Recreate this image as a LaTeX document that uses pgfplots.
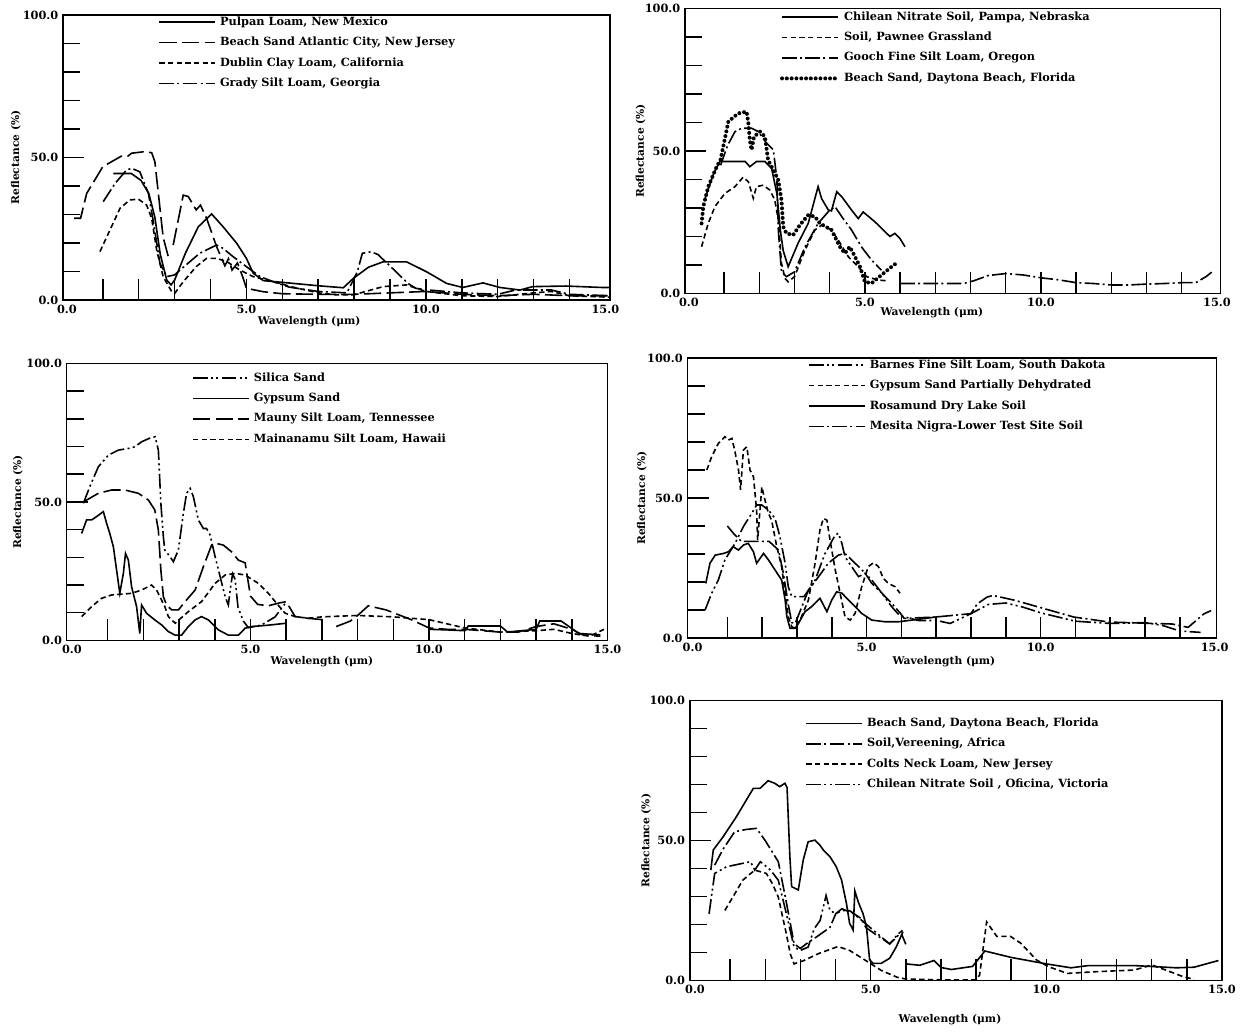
\documentclass[border=0pt]{standalone}
\usepackage{fontspec}
\setmainfont{DejaVu Serif}
\usepackage{pgfplots}
\pgfplotsset{compat=1.18}

% line styles of the scanned curves
\tikzset{
  c solid/.style={solid},
  c long/.style={dash pattern=on 13pt off 4pt},
  c short/.style={dash pattern=on 4pt off 2.5pt},
  c dashdot/.style={dash pattern=on 11pt off 2.5pt on 1.5pt off 2.5pt},
  c dashdotdot/.style={dash pattern=on 11pt off 2.5pt on 1.5pt off 2.5pt on 1.5pt off 2.5pt},
  c dots/.style={line width=3pt, dash pattern=on 0pt off 3.6pt, line cap=round},
}

\pgfplotsset{
  panel/.style={
    scale only axis, anchor=south west,
    ymin=0, ymax=100,
    xtick={1,...,14},
    xticklabels={,,,,5.0,,,,,10.0,,,,},
    extra x ticks={0,15}, extra x tick labels={0.0,15.0},
    extra x tick style={tick style={draw=none}},
    ytick={0,50,100}, yticklabels={0.0,50.0,100.0},
    minor ytick={10,20,...,90},
    tick align=inside, tick pos=left,
    major tick length=16pt, minor tick length=13pt,
    every tick/.style={black, line width=1.1pt},
    axis line style={line width=1.2pt},
    tick label style={font=\fontsize{8.5}{9.5}\selectfont\bfseries},
    label style={font=\fontsize{8}{9.5}\selectfont\bfseries},
    xlabel={Wavelength (μm)}, ylabel={Reflectance (\%)},
    xlabel style={anchor=center}, ylabel style={anchor=center},
    every axis plot/.append style={black, line width=1.2pt},
    legend cell align=left,
    legend style={draw=none, fill=none, anchor=north west, inner sep=0pt,
      font=\fontsize{8.5}{10}\selectfont\bfseries, row sep=4.8pt,
      nodes={inner sep=1pt, text height=6.5pt, text depth=2pt},
      /tikz/every odd column/.style={column sep=2pt}},
    legend image code/.code={\draw[##1] (0pt,0pt) -- (42pt,0pt);},
  },
}

\begin{document}
\begin{tikzpicture}
\path[use as bounding box] (0pt,0pt) rectangle (933pt,-773.25pt);

% ---------------- top left ----------------
\begin{axis}[panel,
  at={(47.25pt,-225pt)}, width=410.25pt, height=213.75pt,
  xmin=-0.11, xmax=15.13,
  legend style={at={(0.174,1.0)}},
  xlabel style={at={(axis description cs:0.45,-0.077)}},
  ylabel style={at={(axis description cs:-0.086,0.5)}},
]
\addplot[c solid] coordinates {(1.29,44.4)(1.79,44.4)(2.06,42)(2.28,37.4)(2.45,29)(2.6,16)(2.78,7)(2.9,5.3)(3.0,7)(3.3,16.4)(3.66,25.7)(4.03,30.2)(4.35,25.7)(4.73,19.9)(5.0,14.6)(5.19,9.4)(5.47,6.8)(6.0,6.2)(7.0,5.0)(7.7,4.3)(7.98,7.6)(8.4,11.5)(8.81,13.4)(9.46,13.4)(10.02,9.9)(10.58,5.8)(11.03,4.4)(11.59,6.0)(12.06,4.4)(12.62,3.5)(12.98,4.7)(13.9,4.9)(14.9,4.4)(15.1,4.4)};
\addlegendentry{Pulpan Loam, New Mexico}
\addplot[c long] coordinates {(0.2,28.7)(0.38,28.7)(0.55,37.4)(1.0,46.8)(1.52,50.5)(1.7,50.5)(1.8,51.5)(2.13,52)(2.36,51.7)(2.45,48.5)(2.68,22)(2.82,15.4)};
\addlegendentry{Beach Sand Atlantic City, New Jersey}
\addplot[c short] coordinates {(0.92,17)(1.2,24.6)(1.48,32.2)(1.75,35.1)(1.99,35.4)(2.22,33.3)(2.36,28.7)(2.5,17.5)(2.68,8.2)(2.92,2.9)(3.0,2.3)(3.24,6.4)(3.6,11.7)(3.89,14.6)(4.17,14.6)(4.45,13.5)(4.82,10.5)(5.19,8.2)(5.56,7)(5.93,5.8)(6.3,4.5)(7.0,2.5)(7.5,1.8)(7.98,1.8)(8.81,4.7)(9.46,5.3)(10.0,3)(11,1.5)(12,1.2)(13,2.5)(13.5,3)(14,1.5)(15.1,1)};
\addlegendentry{Dublin Clay Loam, California}
\addplot[c dashdot] coordinates {(1.01,34.5)(1.34,40.9)(1.66,45.6)(1.8,46.2)(2.03,45)(2.27,37.4)(2.4,28)(2.59,12.9)(2.78,8.2)(3.0,8.8)(3.15,10.5)(3.7,16.4)(4.17,19.3)(4.35,18.1)(4.63,15.2)(5.0,11.7)(5.38,8.2)(5.75,6.4)(6.2,4.5)(7.0,3)(7.8,2.5)(8.09,9.9)(8.23,16.4)(8.47,16.9)(8.66,16)(9.12,10.5)(9.5,5.8)(9.72,4.1)(10.09,3.5)(11,2.5)(12,2)(12.5,3.5)(13.5,3.5)(14,2)(15.1,1.5)};
\addlegendentry{Grady Silt Loam, Georgia}
\addplot[c long, forget plot] coordinates {(2.96,19.3)(3.24,36.8)(3.38,36.3)(3.6,31.6)(3.72,33.3)(3.89,28.7)(4.17,18.7)(4.4,12)(4.5,14.5)(4.6,10.5)(4.75,13)(4.9,8)(5.0,4.1)(5.47,2.9)(6.0,2.2)(7.0,2.0)(8.0,2.0)(9,2.5)(10,3)(11,2)(12,1.5)(13,2)(14,1.5)(15.1,1.5)};
\end{axis}

% ---------------- top right ----------------
\begin{axis}[panel,
  at={(513.75pt,-220.125pt)}, width=401.6pt, height=213.75pt,
  xmin=-0.11, xmax=15.1,
  legend style={at={(0.177,0.995)}},
  xlabel style={at={(axis description cs:0.461,-0.068)}},
  ylabel style={at={(axis description cs:-0.083,0.5)}},
]
\addplot[c solid] coordinates {(0.45,33)(0.7,42)(0.88,46.3)(1.31,46.3)(1.6,46.3)(1.73,44.5)(1.92,46.3)(2.16,46.3)(2.35,43.9)(2.5,35)(2.6,22)(2.68,15)(2.82,9.4)(3.1,17.6)(3.39,24.6)(3.67,37.5)(3.77,33.3)(3.96,29.3)(4.05,29)(4.2,35.7)(4.34,34)(4.62,29.3)(4.81,26.3)(4.95,28.6)(5.28,25.2)(5.57,21.7)(5.71,20)(5.85,21.1)(5.99,19.4)(6.14,16.4)};
\addlegendentry{Chilean Nitrate Soil, Pampa, Nebraska}
\addplot[c short] coordinates {(0.36,16.4)(0.55,24.6)(0.74,30.5)(1.02,35.1)(1.31,37.5)(1.54,40.8)(1.69,39.2)(1.83,33.4)(1.92,37.5)(2.11,38)(2.3,36.3)(2.44,32.8)(2.54,25.8)(2.63,10.6)(2.73,5.3)(2.82,4.1)(3.0,5.9)(3.3,15.3)(3.58,22.3)(3.77,24)(4.05,22.3)(4.24,18.8)(4.53,12.9)(4.81,9.4)(5.05,5.9)(5.38,4.7)(5.6,4.5)};
\addlegendentry{Soil, Pawnee Grassland}
\addplot[c dashdot] coordinates {(0.9,45)(1.1,52)(1.31,56.8)(1.5,58)(1.78,58)(1.97,56.8)(2.21,52.7)(2.4,50.4)(2.5,40)(2.54,22.3)(2.63,7.6)(2.77,5.9)(3.0,7.6)(3.3,16.4)(3.67,24.6)(3.96,28.7)(4.15,30.5)(4.34,27)(4.62,22.3)(4.9,16.4)(5.19,11.7)(5.47,8.2)};
\addlegendentry{Gooch Fine Silt Loam, Oregon}
\addplot[c dots] coordinates {(0.36,24.6)(0.41,30.5)(0.55,37.5)(0.79,44.5)(0.9,47)(1.0,53)(1.12,60.3)(1.4,63.2)(1.64,63.8)(1.69,59.7)(1.73,53.9)(1.78,50.4)(1.85,55)(2.02,56.8)(2.16,55)(2.25,46.8)(2.4,43.3)(2.54,39.8)(2.63,32.8)(2.68,23.4)(2.77,21.1)(2.96,20.5)(3.15,24)(3.39,27.5)(3.58,27)(3.72,24.6)(4.05,22.3)(4.29,16.4)(4.43,14.1)(4.57,16.4)(4.72,12.9)(4.86,9.4)(5.0,4.1)(5.19,3.6)(5.47,6.5)(5.76,9.4)(5.95,11.2)};
\addlegendentry{Beach Sand, Daytona Beach, Florida}
\addplot[c dashdot, forget plot] coordinates {(6.0,3.5)(7.0,3.5)(7.8,3.5)(8.1,4.5)(8.5,6.3)(9.0,7.0)(9.5,6.5)(10.0,5.5)(10.5,4.8)(11.0,3.8)(11.5,3.5)(12.0,3.0)(12.5,3.0)(13.0,3.3)(13.5,3.5)(14.0,3.8)(14.4,3.8)(14.7,6.0)(14.85,7.5)};
\end{axis}

% ---------------- middle left ----------------
\begin{axis}[panel,
  at={(49.95pt,-480.3pt)}, width=405.7pt, height=207.75pt,
  xmin=-0.15, xmax=15,
  legend style={at={(0.232,0.973)}},
  xlabel style={at={(axis description cs:0.472,-0.077)}},
  ylabel style={at={(axis description cs:-0.09,0.5)}},
]
\addplot[c dashdotdot] coordinates {(0.32,49.5)(0.5,55.5)(0.74,62.7)(1.02,66.9)(1.3,68.7)(1.58,69.3)(1.76,69.9)(1.95,71.7)(2.23,73.3)(2.33,73.5)(2.42,68.7)(2.49,49.5)(2.56,37.4)(2.6,32.6)(2.75,30.2)(2.84,28.4)(2.98,32.6)(3.12,45.8)(3.21,53.1)(3.31,54.9)(3.4,51.9)(3.54,43.5)(3.68,40.4)(3.77,40.4)(3.87,38)(4.01,30.2)(4.15,23)(4.29,15.8)(4.38,12.8)(4.45,20)(4.5,24)(4.57,22)(4.65,12)(4.8,7)(4.94,4.6)(5.3,5.5)(5.69,8.5)(5.95,13)(6.05,13.5)};
\addlegendentry{Silica Sand}
\addplot[c solid] coordinates {(0.27,38.6)(0.41,43.5)(0.55,43.5)(0.69,44.7)(0.88,46.5)(0.97,42.3)(1.06,38.6)(1.16,33.8)(1.25,25.4)(1.34,17)(1.44,24.2)(1.5,31.4)(1.58,29)(1.67,19.4)(1.81,12.2)(1.9,2.5)(1.95,12.8)(2.09,9.8)(2.32,7.4)(2.51,5.6)(2.7,3.2)(2.89,1.9)(3.07,1.9)(3.26,5)(3.45,7.4)(3.63,8.6)(3.82,7.4)(4.1,3.8)(4.38,1.9)(4.66,1.9)(4.85,4.4)(5.03,5)(5.5,5.5)(6.0,6.2)};
\addlegendentry{Gypsum Sand}
\addplot[c long] coordinates {(0.32,50)(0.74,53.1)(1.11,54.3)(1.48,54.3)(1.86,53.1)(2.14,50.7)(2.32,47.1)(2.42,39.8)(2.49,25.4)(2.56,15.8)(2.65,12.8)(2.79,11)(2.98,11)(3.17,14)(3.45,18.2)(3.68,26.6)(3.91,34.4)(4.05,35)(4.24,34.4)(4.47,32)(4.66,29)(4.85,28)(4.95,20)(5.0,16)(5.2,13)(5.5,12.5)(5.8,13.5)(6.0,14)(6.25,8.6)(6.6,8)(7.09,7.4)};
\addlegendentry{Mauny Silt Loam, Tennessee}
\addplot[c short] coordinates {(0.27,8.6)(0.55,12.2)(0.83,15.2)(1.11,16.4)(1.39,16.7)(1.67,17)(1.95,18.2)(2.23,20)(2.37,18.2)(2.6,12.2)(2.7,8.6)(2.89,6.2)(3.26,10.4)(3.63,14)(4.01,20.6)(4.29,23.6)(4.57,24.2)(4.85,23.6)(5.22,20.6)(5.5,17)(5.73,13.4)(5.97,9.8)(6.25,8.6)(6.62,8)(7,8.5)(8,9)(9,8.5)(10,7.5)(11,4.5)(12,3)(13,3.5)(13.5,4)(14,2.5)(14.5,1.5)(14.9,4)};
\addlegendentry{Mainanamu Silt Loam, Hawaii}
\addplot[c long, forget plot] coordinates {(7.4,5)(7.8,7)(8.0,9)(8.3,12.5)(8.8,11)(9.5,7.5)(10,4.5)(10.5,4)(11,4)(12,3)(12.5,3)(13,5)(13.5,6)(14,4)(14.3,2)(14.8,1.5)};
\addplot[c solid, forget plot] coordinates {(10,4)(10.5,3.8)(11,3.5)(11.1,5.2)(12,5.2)(12.2,3)(13,4)(13.1,7)(13.7,7)(14.2,2.5)(14.8,2)};
\end{axis}

% ---------------- middle right ----------------
\begin{axis}[panel,
  at={(515.5pt,-478.5pt)}, width=396.75pt, height=210pt,
  xmin=-0.15, xmax=15.05,
  legend style={at={(0.228,1.0)}},
  xlabel style={at={(axis description cs:0.485,-0.085)}},
  ylabel style={at={(axis description cs:-0.086,0.5)}},
]
\addplot[c dashdotdot] coordinates {(0.36,10)(0.55,16)(0.74,20.7)(0.93,27.9)(1.22,33.8)(1.46,39.8)(1.7,44.5)(1.84,47.5)(1.99,47.5)(2.18,45.7)(2.37,42.7)(2.51,36.2)(2.66,26.7)(2.75,18.3)(2.85,14.8)(3.2,14.8)(3.5,20)(3.8,30)(4.1,36.8)(4.19,37.4)(4.29,33.8)(4.38,29)(4.57,25.5)(4.77,21.9)(4.96,23.1)(5.15,20.7)(5.44,16)(5.72,11.2)(5.95,8)(6.5,6.2)(7.0,6.3)(7.4,5.2)(8.0,8.7)(8.5,12)(9.0,12.5)(9.5,11)(10,9)(10.5,7.5)(11,6)(12,5.2)(13,5.5)(13.5,4.5)(14,2.5)(14.6,2)};
\addlegendentry{Barnes Fine Silt Loam, South Dakota}
\addplot[c short] coordinates {(0.41,60)(0.55,64.8)(0.74,69.5)(0.93,71.9)(1.03,70.7)(1.13,71.3)(1.22,66.5)(1.32,60)(1.38,52.9)(1.46,67.1)(1.56,68.3)(1.65,60)(1.75,57.6)(1.84,45.7)(1.87,35)(1.99,54)(2.08,49.3)(2.18,44.5)(2.27,42.1)(2.42,32.6)(2.56,25.5)(2.66,16)(2.75,7.6)(2.85,4)(2.95,3.5)(3.09,6.4)(3.33,13.6)(3.52,26.7)(3.66,38.6)(3.76,42.7)(3.86,42.1)(3.95,35)(4.1,24.3)(4.24,16)(4.38,7.6)(4.53,6.4)(4.67,8.8)(4.86,18.3)(5.05,25.5)(5.2,26.9)(5.34,25.5)(5.48,21.3)(5.63,19.5)(5.82,18.3)(5.96,16)};
\addlegendentry{Gypsum Sand Partially Dehydrated}
\addplot[c solid] coordinates {(0.38,19.5)(0.5,26.7)(0.65,29.6)(0.89,30.2)(1.03,30.8)(1.17,32.6)(1.32,31.4)(1.46,33.2)(1.6,33.8)(1.75,30.8)(1.84,26.7)(2.04,30.2)(2.18,27.9)(2.37,24.3)(2.56,20.7)(2.66,13.6)(2.71,7.6)(2.8,3.5)(2.95,3.5)(3.04,5.2)(3.23,9.4)(3.42,11.2)(3.66,14.2)(3.86,9.4)(4.0,13.6)(4.14,16.5)(4.29,16)(4.48,13.6)(4.67,11.2)(4.86,8.8)(5.15,6.4)(5.53,5.8)(5.92,5.8)(6.3,6.4)(7.06,7.6)};
\addlegendentry{Rosamund Dry Lake Soil}
\addplot[c dashdot] coordinates {(1.0,40)(1.2,37)(1.4,34.5)(1.8,34.5)(2.2,34.5)(2.47,31.4)(2.61,23)(2.75,12)(2.85,5.5)(2.95,5.2)(3.33,17.1)(3.62,21.9)(3.9,26.7)(4.19,29.6)(4.38,30.2)(4.57,27.9)(4.77,25.5)(4.96,23.1)(5.15,19.5)(5.44,16)(5.72,12.4)(5.96,9)(6.08,7)(6.99,7.5)(8.0,8.7)(8.18,12.2)(8.46,14.6)(8.63,15.2)(9.25,13.5)(9.93,11.1)(10.95,7.5)(11.97,5.7)(13,5.3)(13.78,5)(14.24,3.8)(14.69,8.6)(14.9,9.8)};
\addlegendentry{Mesita Nigra-Lower Test Site Soil}
\end{axis}

% ---------------- bottom right ----------------
\begin{axis}[panel,
  at={(517.3pt,-735.5pt)}, width=399.2pt, height=210pt,
  xmin=-0.15, xmax=15.0,
  legend style={at={(0.217,0.945)}},
  xlabel style={at={(axis description cs:0.489,-0.14)}},
  ylabel style={at={(axis description cs:-0.082,0.5)}},
]
\addplot[c solid] coordinates {(0.45,39.5)(0.52,46.7)(0.8,51.4)(1.18,58.6)(1.66,68.7)(1.85,68.7)(2.08,71.4)(2.27,70.5)(2.41,69.3)(2.56,70.5)(2.62,69)(2.7,44.3)(2.75,33.6)(2.94,32.4)(3.08,43.1)(3.22,49.6)(3.41,50.2)(3.55,48.5)(3.65,46.7)(3.84,44.3)(4.02,40.7)(4.17,36)(4.31,27.6)(4.4,20.5)(4.5,18.1)(4.55,32)(4.65,28)(4.78,24)(4.88,19.3)(4.97,7.4)(5.07,6.2)(5.3,6.2)(5.54,8)(5.73,12.1)(5.92,17.5)};
\addlegendentry{Beach Sand, Daytona Beach, Florida}
\addplot[c dashdot] coordinates {(0.56,41.3)(0.8,47)(1.13,53.2)(1.45,54)(1.75,54.4)(2.0,50)(2.37,42.5)(2.6,28)(2.82,13.2)(3.0,11.5)(3.16,13.1)(3.5,16)(3.84,19)(4.01,24)(4.18,25)(4.4,25)(4.75,22)(4.86,19)(5.2,16)(5.54,13.2)(5.7,15)(5.9,18)};
\addlegendentry{Soil,Vereening, Africa}
\addplot[c short] coordinates {(0.85,25.1)(1.13,31)(1.36,35.9)(1.7,39.5)(2.03,38.3)(2.2,34.7)(2.37,29.9)(2.6,16.7)(2.71,9.6)(2.82,6)(3.1,7.2)(3.5,9.6)(4.07,12.2)(4.4,10.8)(4.86,7.2)(5.31,3.6)(5.76,1.2)(6.0,0.6)(7,0.3)(8.0,0.3)(8.1,2)(8.3,21)(8.59,15.8)(8.98,15.8)(9.27,13.4)(9.72,7.4)(10.06,5)(10.6,2.6)(11.4,3.2)(12.5,3.8)(13,5.6)(13.4,3.8)(13.9,1.4)(14.2,0.5)};
\addlegendentry{Colts Neck Loam, New Jersey}
\addplot[c dashdotdot] coordinates {(0.4,23.9)(0.56,38.3)(0.9,40.7)(1.58,42.5)(1.7,39.5)(1.86,42.5)(2.15,39.5)(2.37,35.9)(2.6,23.9)(2.82,12)(3.0,10.8)(3.22,12)(3.39,18.5)(3.56,21.5)(3.73,30.4)(3.84,25.1)(4.01,23.9)(4.18,25.7)(4.52,23.9)(4.86,20.3)(5.2,16.7)(5.54,13.1)(5.7,15.5)(5.85,17.5)(6.0,13)};
\addlegendentry{Chilean Nitrate Soil , Oficina, Victoria}
\addplot[c solid, forget plot] coordinates {(6.0,6)(6.4,5.5)(6.8,7.2)(7.0,4.7)(7.3,4)(7.9,5.1)(8.25,10.6)(9,8.3)(10,6)(10.7,4.6)(11.2,5.4)(12.5,5.4)(13.7,4.6)(14.2,4.8)(14.9,7.2)};
\end{axis}
\end{tikzpicture}
\end{document}
